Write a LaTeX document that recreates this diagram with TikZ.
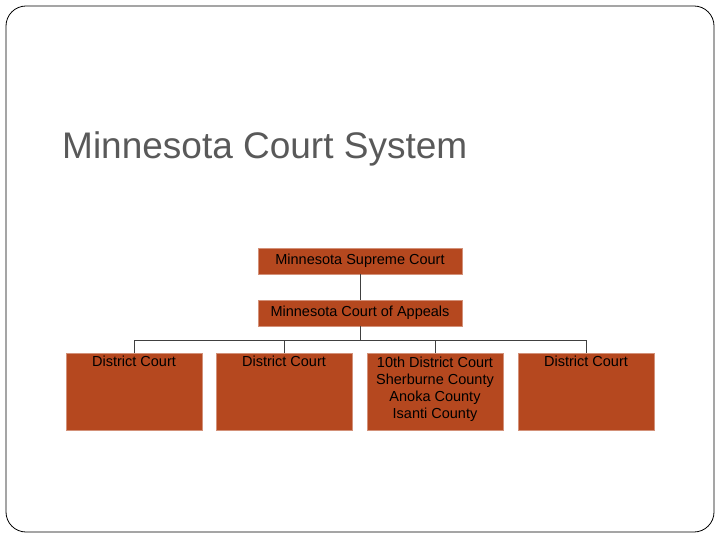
\documentclass[tikz,border=0pt]{standalone}
\usepackage{fontspec}
\setmainfont{Liberation Sans}
\definecolor{boxfill}{HTML}{B5481F}
\definecolor{titlegray}{HTML}{595959}
\definecolor{linegray}{HTML}{404040}
\begin{document}
\begin{tikzpicture}[x=1pt,y=-1pt,
  box/.style={draw=boxfill!60!white,line width=0.8pt,fill=boxfill,inner sep=0pt,text=black,font=\fontsize{14.5}{16}\selectfont},
  conn/.style={draw=linegray,line width=1pt}]
\useasboundingbox (0,0) rectangle (720,540);
\draw[line width=0.8pt,rounded corners=20] (6,6) rectangle (714,532);
\node[anchor=base west,text=titlegray,font=\fontsize{37}{40}\selectfont,inner sep=0pt] (title) at (62,159) {Minnesota Court System};
\node[box,minimum width=204,minimum height=26] (sup) at (360,261) {Minnesota Supreme Court};
\node[box,minimum width=204,minimum height=26] (app) at (360,313) {Minnesota Court of Appeals};
\tikzset{dbox/.style={box,minimum width=136,minimum height=77,anchor=north,text height=11,text depth=62,align=center}}
\node[dbox] (d1) at (134,353) {District Court};
\node[dbox] (d2) at (284,353) {District Court};
\node[box,minimum width=136,minimum height=77,anchor=north,align=center,text depth=0pt] (d3) at (435,353) {};
\node[anchor=north,align=center,inner sep=0pt,font=\fontsize{14.5}{17}\selectfont] (d3t) at (435,357) {10th District Court\\Sherburne County\\Anoka County\\Isanti County};
\node[dbox] (d4) at (586,353) {District Court};
\coordinate (bar) at (360,340);
\draw[conn] (sup.south) -- (app.north);
\draw[conn] (app.south) -- (bar);
\draw[conn] (d1.north) -- (d1.north |- bar) -- (d4.north |- bar) -- (d4.north);
\draw[conn] (d2.north) -- (d2.north |- bar);
\draw[conn] (d3.north) -- (d3.north |- bar);
\end{tikzpicture}
\end{document}
